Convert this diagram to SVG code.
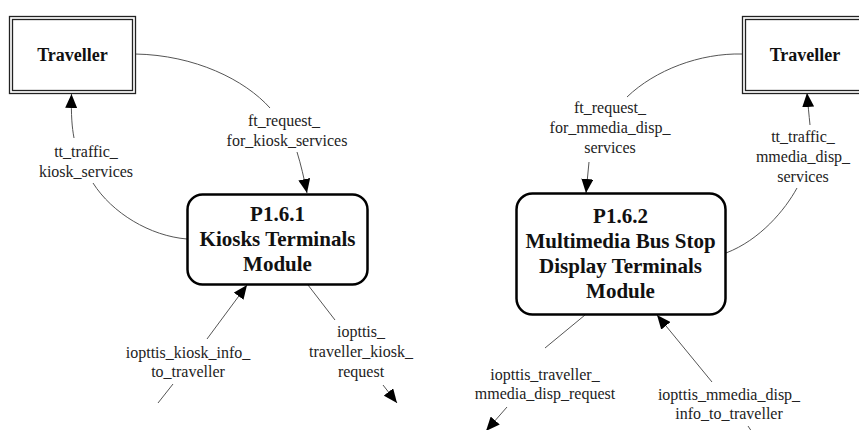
<svg xmlns="http://www.w3.org/2000/svg" width="859" height="430" viewBox="0 0 859 430">
  <style>
    .ext-outer { fill: #ffffff; stroke: #222222; stroke-width: 1.3; }
    .ext-inner { fill: none; stroke: #222222; stroke-width: 1.3; }
    .proc { fill: #ffffff; stroke: #000000; stroke-width: 2.5; }
    .title { font-family: "Liberation Serif", "Times New Roman", serif; font-weight: bold; fill: #111111; text-anchor: middle; }
    .ext-title { font-size: 18px; }
    .proc-title { font-size: 21px; }
    .flow { fill: none; stroke: #555555; stroke-width: 1; }
    .label { font-family: "Liberation Serif", "Times New Roman", serif; font-size: 16px; fill: #222222; text-anchor: middle; }
  </style>
  <defs>
    <marker id="arrow" markerUnits="userSpaceOnUse" markerWidth="15" markerHeight="12" refX="14" refY="6" orient="auto">
      <path d="M0,0 L14,6 L0,12 z" fill="#000000"/>
    </marker>
  </defs>
  <rect width="859" height="430" fill="#ffffff"/>

  <!-- data flows -->
  <g id="connectors">
    <!-- Traveller -> P1.6.1 -->
    <path class="flow" d="M135,54 C195,55 245,80 270,108"/>
    <path class="flow" d="M297,152 C301,165 304,178 307,193" marker-end="url(#arrow)"/>
    <!-- P1.6.1 -> Traveller -->
    <path class="flow" d="M187,239 C150,236 112,213 93,183"/>
    <path class="flow" d="M74,138 C72,127 71,116 71.5,94" marker-end="url(#arrow)"/>
    <!-- kiosk info -> P1.6.1 -->
    <path class="flow" d="M158,403 L173,384"/>
    <path class="flow" d="M207,339 L247,285" marker-end="url(#arrow)"/>
    <!-- P1.6.1 -> kiosk request -->
    <path class="flow" d="M308,285 L335,320"/>
    <path class="flow" d="M383,385 L397,403" marker-end="url(#arrow)"/>
    <!-- Traveller -> P1.6.2 -->
    <path class="flow" d="M742,54 C700,53 655,70 627,97"/>
    <path class="flow" d="M589,162 L586,193" marker-end="url(#arrow)"/>
    <!-- P1.6.2 -> Traveller -->
    <path class="flow" d="M726,253 C760,240 785,210 797,188"/>
    <path class="flow" d="M810,125 C809,115 808,105 807,93" marker-end="url(#arrow)"/>
    <!-- P1.6.2 -> display request -->
    <path class="flow" d="M585,315 L545,348"/>
    <path class="flow" d="M507,407 L486,431" marker-end="url(#arrow)"/>
    <!-- display info -> P1.6.2 -->
    <path class="flow" d="M748,426 L752,432"/>
    <path class="flow" d="M712,382 L657,315" marker-end="url(#arrow)"/>
  </g>

  <!-- flow labels -->
  <g id="flow-labels">
    <text class="label" x="284" y="126">ft_request_</text>
    <text class="label" x="287" y="146">for_kiosk_services</text>
    <text class="label" x="86" y="157">tt_traffic_</text>
    <text class="label" x="86" y="177">kiosk_services</text>
    <text class="label" x="188" y="358">iopttis_kiosk_info_</text>
    <text class="label" x="188" y="377">to_traveller</text>
    <text class="label" x="361" y="337">iopttis_</text>
    <text class="label" x="361" y="357">traveller_kiosk_</text>
    <text class="label" x="361" y="377">request</text>
    <text class="label" x="610" y="113">ft_request_</text>
    <text class="label" x="610" y="133">for_mmedia_disp_</text>
    <text class="label" x="610" y="153">services</text>
    <text class="label" x="803" y="142">tt_traffic_</text>
    <text class="label" x="803" y="162">mmedia_disp_</text>
    <text class="label" x="803" y="182">services</text>
    <text class="label" x="545" y="380">iopttis_traveller_</text>
    <text class="label" x="545" y="399">mmedia_disp_request</text>
    <text class="label" x="729" y="400">iopttis_mmedia_disp_</text>
    <text class="label" x="729" y="419">info_to_traveller</text>
  </g>

  <!-- terminators -->
  <g id="traveller-left">
    <rect class="ext-outer" x="9.5" y="16.5" width="126" height="77"/>
    <rect class="ext-inner" x="12.5" y="19.5" width="120" height="71"/>
    <text class="title ext-title" x="72.5" y="61">Traveller</text>
  </g>
  <g id="traveller-right">
    <rect class="ext-outer" x="742.5" y="16.5" width="126" height="77"/>
    <rect class="ext-inner" x="745.5" y="19.5" width="120" height="71"/>
    <text class="title ext-title" x="805" y="61">Traveller</text>
  </g>

  <!-- processes -->
  <g id="p1-6-1">
    <rect class="proc" x="187.5" y="194.5" width="180" height="90" rx="15" ry="15"/>
    <text class="title proc-title" x="277.5" y="221">P1.6.1</text>
    <text class="title proc-title" x="277.5" y="246">Kiosks Terminals</text>
    <text class="title proc-title" x="277.5" y="271">Module</text>
  </g>
  <g id="p1-6-2">
    <rect class="proc" x="516.5" y="193.5" width="209" height="121" rx="16" ry="16"/>
    <text class="title proc-title" x="620.5" y="223">P1.6.2</text>
    <text class="title proc-title" x="620.5" y="248">Multimedia Bus Stop</text>
    <text class="title proc-title" x="620.5" y="273">Display Terminals</text>
    <text class="title proc-title" x="620.5" y="298">Module</text>
  </g>
</svg>
